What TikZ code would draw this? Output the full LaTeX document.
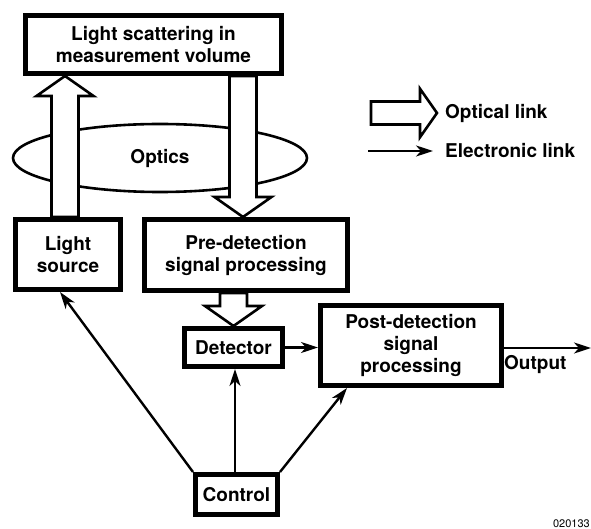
\documentclass[tikz,border=0pt]{standalone}
\usepackage{fontspec}
\setmainfont{TeX Gyre Heros}
\usetikzlibrary{calc,arrows.meta,shapes.geometric,positioning}
\tikzset{
 box/.style={draw,line width=5pt,align=center,inner sep=0pt,font=\bfseries\fontsize{19}{22}\selectfont},
 lbl/.style={inner sep=0pt,font=\bfseries\fontsize{19}{22}\selectfont},
 optical/.style={draw,fill=white,line width=2.6pt,line join=miter},
 elink/.style={line width=2.4pt,-{Stealth[length=17pt,width=11pt,inset=5pt]}}
}
% open (optical) arrow from #2 to #3, #1 = size factor
\newcommand\optlink[3][1]{%
 \coordinate (oa) at #2; \coordinate (ob) at #3;
 \coordinate (oc) at ($(ob)!{#1*20pt}!(oa)$);
 \draw[optical] ($(oa)!{#1*13.5pt}!90:(ob)$) -- ($(oc)!{#1*13.5pt}!90:(ob)$)
  -- ($(oc)!{#1*28.5pt}!90:(ob)$) -- (ob) -- ($(oc)!{#1*28.5pt}!-90:(ob)$)
  -- ($(oc)!{#1*13.5pt}!-90:(ob)$) -- ($(oa)!{#1*13.5pt}!-90:(ob)$) -- cycle;}
\begin{document}
\begin{tikzpicture}[x=1pt,y=-1pt]
 \useasboundingbox (0,0) rectangle (591,529);
 % blocks
 \node[box,minimum width=256,minimum height=58] (scat) at (153.5,44.5) {Light scattering in\\measurement volume};
 \node[draw,ellipse,line width=2.6pt,minimum width=294,minimum height=68,lbl] (optics) at (160,158) {Optics};
 \node[box,minimum width=105,minimum height=70] (ls) at (68,254.5) {Light\\source};
 \node[box,minimum width=203,minimum height=71] (pre) at (246,255) {Pre-detection\\signal processing};
 \node[box,minimum width=98,minimum height=38] (det) at (233.5,347.5) {Detector};
 \node[box,minimum width=181,minimum height=80] (post) at (411,345.5) {Post-detection\\signal\\processing};
 \node[box,minimum width=82,minimum height=40] (ctrl) at (236.5,494.5) {Control};
 % optical links
 \coordinate (upx) at ([xshift=-3pt]ls.north);
 \coordinate (dnx) at ([xshift=-3pt]pre.north);
 \optlink{(upx)}{(upx |- scat.south)}
 \optlink{(dnx |- scat.south)}{(dnx)}
 \optlink{(det.north |- pre.south)}{(det.north)}
 % electronic links
 \coordinate (out) at (591,348);
 \draw[elink] (det.east) -- (post.west |- det.east);
 \draw[elink] (post.east |- out) -- (out);
 \node[lbl,anchor=north west] (outlbl) at ([yshift=-7pt]post.east |- out) {Output};
 \draw[elink] (ctrl.north west) -- ([xshift=-8pt]ls.south);
 \draw[elink] ([xshift=-1.5pt]ctrl.north) -- ([xshift=-1.5pt]ctrl.north |- det.south);
 \draw[elink] (ctrl.north east) -- ([xshift=-64pt]post.south);
 % legend
 \coordinate (lo1) at (371,113); \coordinate (lo2) at (437,113);
 \optlink[0.85]{(lo1)}{(lo2)}
 \node[lbl,anchor=west] (optlbl) at (445,113) {Optical link};
 \coordinate (le1) at (368,151); \coordinate (le2) at (433,151);
 \draw[elink] (le1) -- (le2);
 \node[lbl,anchor=west] (ellbl) at (445,151) {Electronic link};
 \node[anchor=south east,inner sep=0pt,font=\fontsize{11}{13}\selectfont] (code) at (590,528) {020133};
\end{tikzpicture}
\end{document}
